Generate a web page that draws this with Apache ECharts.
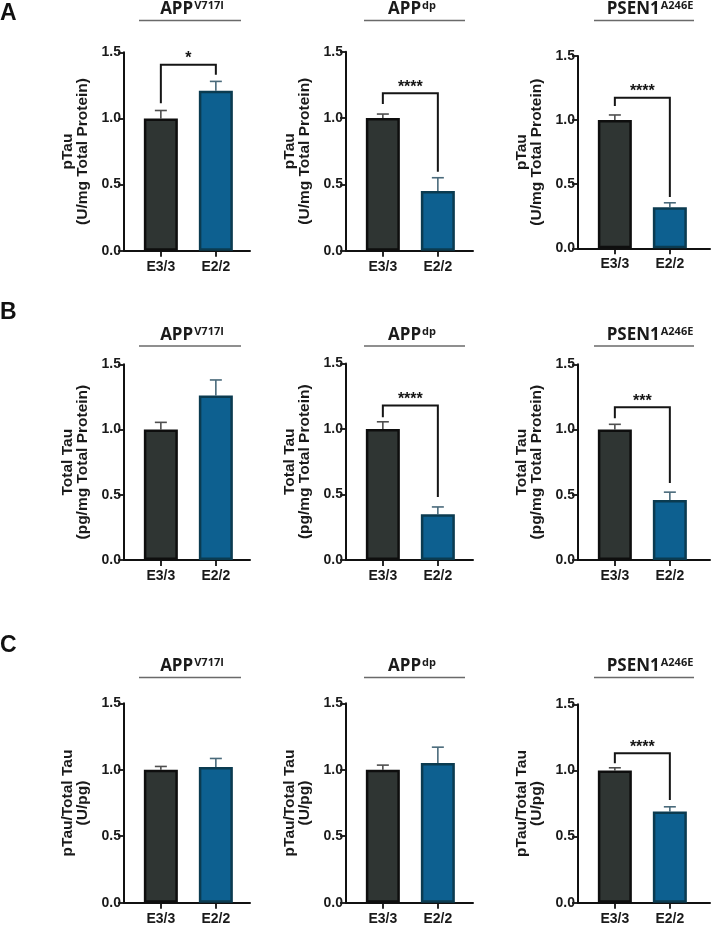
<!DOCTYPE html>
<html>
<head>
<meta charset="utf-8">
<script src="https://cdn.jsdelivr.net/npm/echarts@6/dist/echarts.min.js"></script>
<style>
html,body{margin:0;padding:0;background:#fff;}
#chart{width:712px;height:930px;}
</style>
</head>
<body>
<div id="chart"></div>
<script>
// ---------- data ----------
const categories = ['E3/3', 'E2/2'];
const panelTitleMain = ['APP', 'APP', 'PSEN1'];
const panelTitleSup = ['V717I', 'dp', 'A246E'];
const rowLetters = ['A', 'B', 'C'];
const yAxisNames = ['pTau\n(U/mg Total Protein)', 'Total Tau\n(pg/mg Total Protein)', 'pTau/Total Tau\n(U/pg)'];
const yTicks = [0, 0.5, 1.0, 1.5];

// means [E3/3, E2/2] per panel
const pTauMean = [[1.00, 1.21], [1.00, 0.45], [1.00, 0.32]];
const pTauErr = [[0.06, 0.07], [0.03, 0.10], [0.04, 0.035]];
const totalTauMean = [[1.00, 1.26], [1.00, 0.35], [1.00, 0.46]];
const totalTauErr = [[0.055, 0.12], [0.055, 0.055], [0.04, 0.06]];
const ratioMean = [[1.00, 1.02], [1.00, 1.05], [1.00, 0.69]];
const ratioErr = [[0.025, 0.065], [0.035, 0.12], [0.02, 0.035]];

// significance brackets: [label, bracketTop, leftLegEnd, rightLegEnd]
const pTauSig = [['*', 1.405, 1.115, 1.33], ['****', 1.186, 1.105, 0.595], ['****', 1.175, 1.11, 0.40]];
const totalTauSig = [null, ['****', 1.18, 1.09, 0.48], ['***', 1.17, 1.087, 0.59]];
const ratioSig = [null, null, ['****', 1.13, 1.054, 0.776]];

const rowMeans = [pTauMean, totalTauMean, ratioMean];
const rowErrs = [pTauErr, totalTauErr, ratioErr];
const rowSigs = [pTauSig, totalTauSig, ratioSig];

// ---------- layout (pixels) ----------
const colAxisX = [124, 346, 578];
const colAxisEnd = [250, 473, 710];
const gridTop = [[52.3, 51.7, 56], [364.3, 363.5, 364.3], [703.3, 703.3, 704.3]];
const gridBottom = [[250.7, 250.7, 248.3], [560, 560, 560], [902.7, 902.7, 902.7]];
const pxPerCat = 55;
const xMin = -0.67;
const titleCenterX = [192, 412, 650];
const titleBaseY = [18, 344, 675];
const underlineY = [20.5, 346, 677.5];
const underlineX = [[139, 241], [364, 465], [594, 694]];
const letterY = [2, 301, 634];

const FONT = '"Liberation Sans", Arial, sans-serif';
const colE33 = '#2f3533';
const colE22 = '#0d6090';
const borderE33 = '#0e0e0e';
const borderE22 = '#0b3b50';
const errE33 = '#4f4f4f';
const errE22 = '#4a6a7b';

const grids = [], xAxes = [], yAxes = [], series = [], graphics = [];
let idx = 0;
for (let r = 0; r < 3; r++) {
  for (let c = 0; c < 3; c++) {
    const left = colAxisX[c];
    const width = colAxisEnd[c] - colAxisX[c];
    const top = gridTop[r][c];
    const height = gridBottom[r][c] - top;
    grids.push({left: left, top: top, width: width, height: height, containLabel: false});
    xAxes.push({
      type: 'value', gridIndex: idx, min: xMin, max: xMin + width / pxPerCat,
      axisLine: {show: true, onZero: false, lineStyle: {color: '#111', width: 2}},
      axisTick: {show: true, customValues: [0, 1], length: 6, lineStyle: {color: '#111', width: 1.8}},
      axisLabel: {show: true, customValues: [0, 1], margin: 9, color: '#1a1a1a',
        fontFamily: FONT, fontWeight: 'bold', fontSize: 14,
        formatter: v => categories[Math.round(v)]},
      splitLine: {show: false}
    });
    yAxes.push({
      type: 'value', gridIndex: idx, min: 0, max: 1.5, interval: 0.5,
      axisLine: {show: true, onZero: false, lineStyle: {color: '#111', width: 2}},
      axisTick: {show: true, length: 6, lineStyle: {color: '#111', width: 1.8}},
      axisLabel: {margin: 3, color: '#1a1a1a', fontFamily: FONT, fontWeight: 'bold', fontSize: 14,
        formatter: v => v.toFixed(1), customValues: yTicks},
      splitLine: {show: false},
      name: yAxisNames[r], nameLocation: 'middle', nameGap: 34, nameRotate: 90,
      nameTextStyle: {color: '#1a1a1a', fontFamily: FONT, fontWeight: 'bold', fontSize: 15.5, lineHeight: 15}
    });
    const means = rowMeans[r][c];
    const errs = rowErrs[r][c];
    series.push({
      type: 'bar', xAxisIndex: idx, yAxisIndex: idx, barWidth: 34, z: 3,
      data: means.map((m, i) => ({
        value: [i, m],
        itemStyle: {color: i === 0 ? colE33 : colE22, borderColor: i === 0 ? borderE33 : borderE22, borderWidth: 2.5}
      })),
      silent: true
    });
    series.push({
      type: 'custom', xAxisIndex: idx, yAxisIndex: idx, z: 2, silent: true,
      data: means.map((m, i) => [i, m, m + errs[i]]),
      renderItem: function (params, api) {
        const x = api.value(0);
        const p0 = api.coord([x, api.value(1)]);
        const p1 = api.coord([x, api.value(2)]);
        const col = x === 0 ? errE33 : errE22;
        const half = 6;
        return {type: 'group', children: [
          {type: 'line', shape: {x1: p0[0], y1: p0[1], x2: p1[0], y2: p1[1]}, style: {stroke: col, lineWidth: 1.6}},
          {type: 'line', shape: {x1: p1[0] - half, y1: p1[1], x2: p1[0] + half, y2: p1[1]}, style: {stroke: col, lineWidth: 1.6}}
        ]};
      }
    });
    const sig = rowSigs[r][c];
    if (sig) {
      const label = sig[0];
      series.push({
        type: 'custom', xAxisIndex: idx, yAxisIndex: idx, z: 4, silent: true,
        data: [[0, 1, sig[1], sig[2], sig[3]]],
        renderItem: function (params, api) {
          const a = api.coord([api.value(0), api.value(3)]);
          const b = api.coord([api.value(0), api.value(2)]);
          const cc = api.coord([api.value(1), api.value(2)]);
          const d = api.coord([api.value(1), api.value(4)]);
          return {type: 'group', children: [
            {type: 'polyline', shape: {points: [a, b, cc, d]}, style: {stroke: '#151515', lineWidth: 2, fill: null}},
            {type: 'text', x: (b[0] + cc[0]) / 2, y: b[1] + 2,
              style: {text: label, align: 'center', verticalAlign: 'bottom', fill: '#151515',
                font: 'bold 16px ' + FONT}}
          ]};
        }
      });
    }
    idx++;
  }
  graphics.push({type: 'text', left: 0, top: letterY[r],
    style: {text: rowLetters[r], fill: '#111', font: 'bold 23px ' + FONT}});
  for (let c = 0; c < 3; c++) {
    graphics.push({type: 'text', x: titleCenterX[c], y: titleBaseY[r],
      style: {
        text: '{b|' + panelTitleMain[c] + '}{s|' + panelTitleSup[c] + '}',
        align: 'center', verticalAlign: 'bottom',
        rich: {
          b: {font: 'bold 17px "Open Sans", sans-serif', fill: '#1a1a1a', verticalAlign: 'bottom', lineHeight: 18},
          s: {font: 'bold 11px "Open Sans", sans-serif', fill: '#1a1a1a', verticalAlign: 'top', lineHeight: 18, padding: [0, 0, 0, 1]}
        }
      }});
    graphics.push({type: 'line', shape: {x1: underlineX[c][0], y1: underlineY[r], x2: underlineX[c][1], y2: underlineY[r]},
      style: {stroke: '#6a6a6a', lineWidth: 1.4}});
  }
}

const chart = echarts.init(document.getElementById('chart'), null, {renderer: 'canvas'});
chart.setOption({
  animation: false,
  backgroundColor: '#ffffff',
  grid: grids,
  xAxis: xAxes,
  yAxis: yAxes,
  series: series,
  graphic: graphics
});
</script>
</body>
</html>
